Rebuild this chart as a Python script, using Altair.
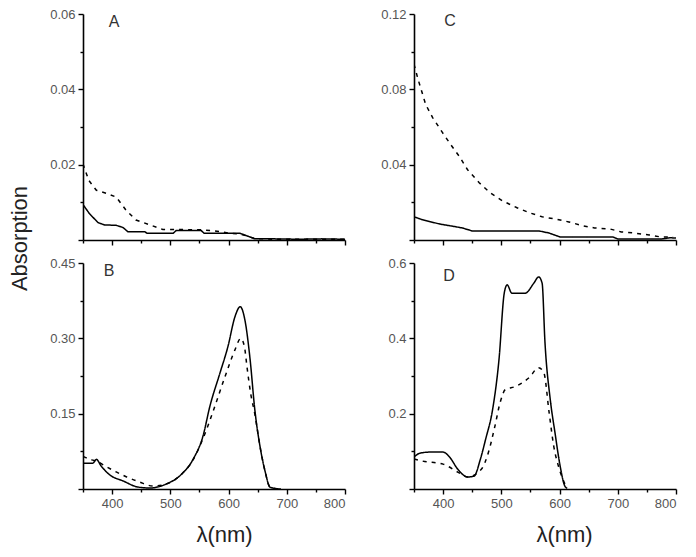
import altair as alt
import pandas as pd

# ---------------- data ----------------
A_solid_wl = [350, 361, 376, 387, 407, 419, 427, 456, 460, 505, 510, 553, 558, 619, 630, 645, 680, 720, 760, 800]
A_solid_ab = [0.0094, 0.0070, 0.0046, 0.0040, 0.0039, 0.0033, 0.0022, 0.0022, 0.0018, 0.0018, 0.0025, 0.0025, 0.0018, 0.0018, 0.0012, 0.0003, 0.0003, 0.0002, 0.0003, 0.0002]
A_dash_wl = [350, 360, 373, 390, 407, 424, 441, 467, 487, 510, 553, 573, 602, 620, 645, 680, 720, 760, 800]
A_dash_ab = [0.0202, 0.0158, 0.0132, 0.0124, 0.0114, 0.0079, 0.0053, 0.0039, 0.0028, 0.0028, 0.0027, 0.0025, 0.0018, 0.0016, 0.0004, 0.0002, 0.0002, 0.0002, 0.0002]

B_solid_wl = [350, 367, 373, 381, 396, 419, 444, 465, 493, 516, 539, 556, 568, 585, 599, 611, 620, 628, 637, 645, 654, 663, 671, 680, 690]
B_solid_ab = [0.0515, 0.0515, 0.059, 0.046, 0.028, 0.016, 0.004, 0.002, 0.010, 0.026, 0.059, 0.105, 0.165, 0.230, 0.284, 0.343, 0.363, 0.337, 0.258, 0.159, 0.085, 0.034, 0.004, 0.001, 0.0]
B_dash_wl = [350, 365, 375, 385, 407, 425, 447, 470, 493, 516, 539, 556, 573, 594, 611, 621, 627, 632, 638, 645, 654, 663, 671, 680]
B_dash_ab = [0.065, 0.058, 0.055, 0.048, 0.034, 0.024, 0.014, 0.006, 0.010, 0.026, 0.058, 0.100, 0.153, 0.224, 0.277, 0.300, 0.285, 0.240, 0.190, 0.150, 0.085, 0.034, 0.004, 0.001]

C_solid_wl = [350, 365, 394, 413, 433, 450, 565, 582, 601, 692, 700, 775, 790, 800]
C_solid_ab = [0.0123, 0.0107, 0.0085, 0.0075, 0.0064, 0.0048, 0.0048, 0.0037, 0.0016, 0.0016, 0.0005, 0.0005, 0.0012, 0.0010]
C_dash_wl = [350, 357, 370, 382, 399, 413, 428, 442, 462, 481, 502, 527, 549, 570, 595, 616, 641, 660, 686, 706, 728, 754, 774, 795]
C_dash_ab = [0.0933, 0.0853, 0.072, 0.065, 0.057, 0.0507, 0.0443, 0.0373, 0.0304, 0.025, 0.0208, 0.0171, 0.0144, 0.0123, 0.011, 0.0096, 0.0075, 0.0064, 0.0059, 0.0043, 0.0037, 0.0027, 0.0016, 0.0016]

D_solid_wl = [350, 360, 377, 400, 411, 425, 442, 453, 464, 473, 485, 496, 505, 510, 518, 541, 556, 564, 570, 575, 584, 592, 601, 609, 613]
D_solid_ab = [0.0846, 0.095, 0.098, 0.098, 0.085, 0.053, 0.032, 0.034, 0.079, 0.132, 0.211, 0.344, 0.52, 0.542, 0.52, 0.52, 0.547, 0.563, 0.547, 0.388, 0.238, 0.151, 0.061, 0.008, 0.002]
D_dash_wl = [350, 365, 400, 425, 442, 466, 478, 489, 498, 507, 524, 548, 564, 573, 582, 590, 598, 607, 613]
D_dash_ab = [0.080, 0.074, 0.066, 0.045, 0.032, 0.053, 0.098, 0.167, 0.230, 0.264, 0.272, 0.296, 0.322, 0.309, 0.204, 0.114, 0.061, 0.021, 0.002]

X_TICKS = list(range(350, 801, 50))
Y_TICKS = {
    "A": [0, 0.01, 0.02, 0.03, 0.04, 0.05, 0.06],
    "B": [0, 0.075, 0.15, 0.225, 0.30, 0.375, 0.45],
    "C": [0, 0.02, 0.04, 0.06, 0.08, 0.10, 0.12],
    "D": [0, 0.1, 0.2, 0.3, 0.4, 0.5, 0.6],
}
Y_STEP = {"A": 0.02, "B": 0.15, "C": 0.04, "D": 0.2}
Y_FMT = {"A": ".2f", "B": ".2f", "C": ".2f", "D": ".1f"}
Y_MAX = {"A": 0.06, "B": 0.45, "C": 0.12, "D": 0.6}
SMOOTH = {"A": "linear", "B": "monotone", "C": "linear", "D": "monotone"}

W, H = 262, 226
FONT = "Liberation Sans"
LABEL_COLOR = "#555555"


def make_df(ws, as_, wd, ad):
    return pd.DataFrame({
        "wl": ws + wd,
        "ab": as_ + ad,
        "s": ["solid"] * len(ws) + ["dashed"] * len(wd),
    })


def panel(key, df, bottom, lab_xy, xtitle_x):
    step = Y_STEP[key]
    ytest = f"abs(datum.value/{step} - round(datum.value/{step})) < 1e-6"
    yaxis = alt.Axis(
        values=Y_TICKS[key],
        labelExpr=f"({ytest}) && datum.value > 0 ? format(datum.value, '{Y_FMT[key]}') : ''",
        tickSize={"condition": {"test": ytest, "value": 5}, "value": 3},
        grid=False,
        title="Absorption" if (key == "A") else None,
        titleAngle=270,
        titleAlign="center",
        titleBaseline="middle",
        titleX=-64,
        titleY=224,
        titleFontSize=22,
        titleFontWeight="normal",
        titleFont=FONT,
        titleColor="#222222",
    )
    xtest = "datum.value % 100 === 0"
    xaxis = alt.Axis(
        values=X_TICKS,
        format="d",
        labels=bottom,
        labelExpr=f"({xtest}) && datum.value > 350 ? datum.label : ''",
        tickSize={"condition": {"test": xtest, "value": 5}, "value": 3},
        grid=False,
        title="λ(nm)" if bottom else None,
        titleX=xtitle_x,
        titleY=45,
        titleAlign="center",
        titleBaseline="middle",
        titleFontSize=22,
        titleFontWeight="normal",
        titleFont=FONT,
        titleColor="#222222",
    )
    lines = alt.Chart(df).mark_line(
        color="black", strokeWidth=1.5, clip=True, interpolate=SMOOTH[key]
    ).encode(
        x=alt.X("wl:Q", scale=alt.Scale(domain=[350, 800], nice=False, zero=False), axis=xaxis),
        y=alt.Y("ab:Q", scale=alt.Scale(domain=[0, Y_MAX[key]], nice=False), axis=yaxis),
        strokeDash=alt.StrokeDash(
            "s:N",
            scale=alt.Scale(domain=["solid", "dashed"], range=[[1, 0], [4, 5]]),
            legend=None,
        ),
        detail="s:N",
        order=alt.Order("wl:Q"),
    )
    txt = alt.Chart(pd.DataFrame({"t": [key]})).mark_text(
        font=FONT, fontSize=16, color="#333333", align="center", baseline="middle"
    ).encode(text="t:N", x=alt.value(lab_xy[0]), y=alt.value(lab_xy[1]))
    return alt.layer(lines, txt).properties(width=W, height=H)


pA = panel("A", make_df(A_solid_wl, A_solid_ab, A_dash_wl, A_dash_ab), False, (31, 8), 131)
pC = panel("C", make_df(C_solid_wl, C_solid_ab, C_dash_wl, C_dash_ab), False, (36, 7), 131)
pB = panel("B", make_df(B_solid_wl, B_solid_ab, B_dash_wl, B_dash_ab), True, (26, 8), 141)
pD = panel("D", make_df(D_solid_wl, D_solid_ab, D_dash_wl, D_dash_ab), True, (35, 13), 150)

chart = alt.concat(
    pA, pC, pB, pD,
    columns=2,
    spacing={"row": 23, "column": 69},
    bounds="flush",
).properties(
    padding={"left": 0, "top": 0, "right": 5, "bottom": 5},
    background="white",
).configure_view(
    stroke=None
).configure_axis(
    domainColor="black",
    domainWidth=1.6,
    tickColor="black",
    tickWidth=1.4,
    labelFont=FONT,
    labelFontSize=13,
    labelColor=LABEL_COLOR,
    labelPadding=3,
)

chart.save("out.html", embed_options={"renderer": "svg", "actions": False})
